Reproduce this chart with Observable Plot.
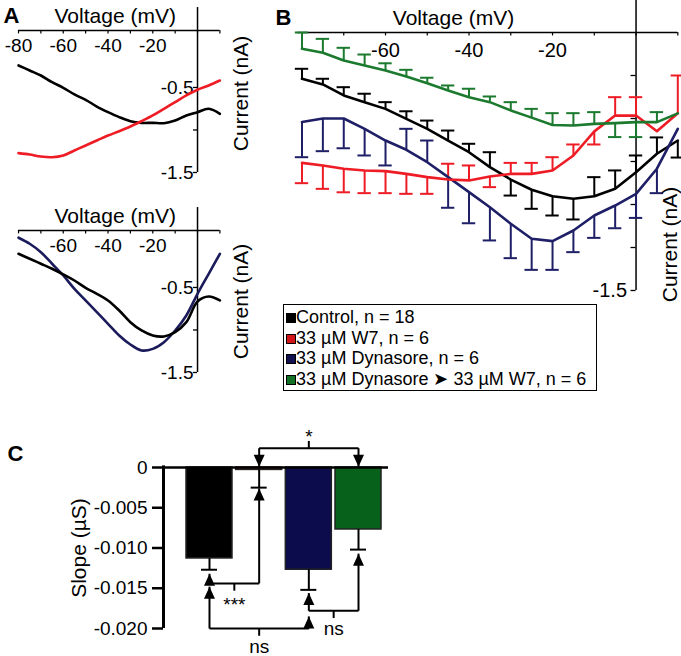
<!DOCTYPE html>
<html>
<head>
<meta charset="utf-8">
<script src="https://cdn.jsdelivr.net/npm/d3@7"></script>
<script src="https://cdn.jsdelivr.net/npm/@observablehq/plot@0.6"></script>
<style>
  body { margin: 0; background: #fff; font-family: "Liberation Sans", Arial, sans-serif; }
  #fig { position: relative; width: 681px; height: 656px; overflow: hidden; background: #fff; }
  .panel { position: absolute; }
  .panel svg { display: block; }
  .legend { position: absolute; left: 283px; top: 304px; width: 312px; height: 83px; border: 1.5px solid #000;
            font-size: 18px; color: #000; padding-top: 2px; box-sizing: content-box; }
  .legend .row { height: 20.5px; line-height: 20.5px; white-space: nowrap; position: relative; padding-left: 12px; }
  .legend .sw { position: absolute; left: 1.5px; top: 6px; width: 8px; height: 8px; border: 1px solid #000; }
</style>
</head>
<body>
<div id="fig"></div>
<script>
// ---------------- DATA ----------------
// Panel A: example traces, voltage (mV) and current (nA)
const voltsA = [-80, -75, -70, -65, -60, -55, -50, -45, -40, -35, -30, -25, -20, -15, -10, -5, 0, 5, 10];
const aTopControl = [-0.241, -0.300, -0.359, -0.438, -0.504, -0.582, -0.645, -0.724, -0.790, -0.849, -0.896, -0.916, -0.916, -0.920, -0.888, -0.829, -0.790, -0.751, -0.810];
const aTopW7      = [-1.272, -1.288, -1.312, -1.320, -1.300, -1.241, -1.182, -1.124, -1.065, -1.014, -0.959, -0.896, -0.829, -0.751, -0.672, -0.594, -0.527, -0.476, -0.418];
const aBotControl = [-0.104, -0.162, -0.221, -0.280, -0.347, -0.418, -0.504, -0.574, -0.653, -0.771, -0.908, -1.006, -1.065, -1.076, -1.025, -0.908, -0.665, -0.606, -0.653];
const aBotDynasore = [0.085, 0.014, -0.085, -0.221, -0.359, -0.516, -0.653, -0.790, -0.927, -1.065, -1.171, -1.241, -1.222, -1.143, -1.006, -0.829, -0.574, -0.339, -0.104];
const aXTicks = [-80, -70, -60, -50, -40, -30, -20, -10, 0, 10];
const aTopXLabels = [-80, -60, -40, -20];
const aBotXLabels = [-60, -40, -20];
const aYTicks = [-0.5, -1.0, -1.5];
const aYLabels = [-0.5, -1.5];

// Panel B: mean I-V curves with one-sided error bars (cap value, null = none)
const voltsB = [-80, -75, -70, -65, -60, -55, -50, -45, -40, -35, -30, -25, -20, -15, -10, -5, 0, 5, 10];
const bControl    = [-0.269, -0.302, -0.366, -0.405, -0.444, -0.502, -0.560, -0.628, -0.696, -0.783, -0.855, -0.914, -0.952, -0.967, -0.952, -0.909, -0.812, -0.705, -0.628];
const bControlCap = [-0.211, -0.269, -0.318, -0.356, -0.405, -0.458, -0.512, -0.570, -0.647, -0.696, -0.948, -1.025, -1.064, -1.087, -0.841, -0.802, -0.715, -0.610, -0.727];
const bW7         = [-0.758, -0.773, -0.792, -0.802, -0.806, -0.822, -0.841, -0.855, -0.860, -0.837, -0.822, -0.822, -0.802, -0.715, -0.575, -0.483, -0.483, -0.574, -0.469];
const bW7Cap      = [-0.876, -0.909, -0.929, -0.934, -0.934, -0.938, -0.938, -0.763, -0.773, -0.899, -0.758, -0.758, -0.725, -0.651, -0.651, -0.376, -0.376, null, -0.250];
const bDyn        = [-0.520, -0.500, -0.500, -0.560, -0.628, -0.682, -0.754, -0.841, -0.928, -1.016, -1.112, -1.199, -1.213, -1.151, -1.064, -1.006, -0.938, -0.792, -0.560];
const bDynCap     = [-0.725, -0.690, -0.673, -0.715, -0.773, -0.560, -0.628, -1.019, -1.109, -1.209, -1.312, -1.380, -1.380, -1.277, -1.194, -1.138, -1.078, -0.934, null];
const bDynW7      = [-0.095, -0.118, -0.163, -0.192, -0.221, -0.256, -0.295, -0.337, -0.376, -0.405, -0.453, -0.495, -0.538, -0.541, -0.531, -0.527, -0.521, -0.521, -0.470];
const bDynW7Cap   = [0.000, -0.037, -0.089, -0.128, -0.179, -0.217, -0.263, -0.308, -0.327, -0.372, -0.405, -0.444, -0.469, -0.469, -0.463, -0.608, -0.608, -0.463, null];
const bXTicks = [-80, -70, -60, -50, -40, -30, -20, -10, 0, 10];
const bXLabels = [-60, -40, -20];
const bYTicks = [-0.25, -0.5, -0.75, -1.0, -1.25, -1.5];
const bYLabels = [-1.5];

// Legend / series
const seriesNames = ["Control, n = 18", "33 µM W7, n = 6", "33 µM Dynasore, n = 6", "33 µM Dynasore ➤ 33 µM W7, n = 6"];
const lineColors = ["#000000", "#ee1c25", "#1e1f66", "#1b7a2e"];
const swatchColors = ["#000000", "#d3141b", "#12124f", "#137024"];

// Panel C: slope (µS), mean and SEM
const groupsC = ["Control", "33 µM W7", "33 µM Dynasore", "33 µM Dynasore ➤ 33 µM W7"];
const slopeC = [-0.0113, -0.0003, -0.0127, -0.0077];
const semC = [0.0014, 0.0022, 0.0025, 0.0025];
const barFillsC = ["#000000", "#8a1515", "#0c0c4c", "#07611a"];
const cYTicks = [0, -0.005, -0.010, -0.015, -0.020];
// statistical comparisons: group indices, bracket level, arrow tips, label
const comparisons = [
  {a: 1, b: 3, level: 0.0024, tipA: 0.0001, tipB: 0.0001, label: "*"},
  {a: 0, b: 1, level: -0.0144, tipA: -0.0132, tipB: -0.0026, label: "***"},
  {a: 0, b: 2, level: -0.0200, tipA: -0.0148, tipB: -0.0185, label: "ns"},
  {a: 2, b: 3, level: -0.0178, tipA: -0.0156, tipB: -0.0107, label: "ns"}
];

// ---------------- DRAWING ----------------
const FONT = '"Liberation Sans", Arial, Helvetica, sans-serif';
const fig = document.getElementById("fig");
function place(node, left, top, width) {
  const d = document.createElement("div");
  d.className = "panel";
  d.style.left = left + "px"; d.style.top = top + "px"; d.style.width = width + "px";
  d.appendChild(node);
  fig.appendChild(d);
}
const baseStyle = {fontFamily: FONT, background: "none", overflow: "visible", color: "#000"};
const TICK_FS = 19, TITLE_FS = 21, LETTER_FS = 22;
const title = (t, o) => Plot.text([t], {text: d => d, textAnchor: "middle", lineAnchor: "middle", fontSize: TITLE_FS, ...o});
const letterMark = (t, o) => Plot.text([t], {text: d => d, textAnchor: "start", lineAnchor: "middle", fontSize: LETTER_FS, fontWeight: "bold", ...o});

const A_AXIS_Y = 0.17;   // current at which the voltage axis crosses in panel A
function tracePlot(series, xLabels, letter, yTitleDy) {
  const rows = series.flatMap(s => voltsA.map((v, i) => ({v, I: s.values[i], color: s.color, k: s.key})));
  return Plot.plot({
    width: 250, height: 190,
    marginLeft: 18, marginRight: 30.6, marginTop: 30, marginBottom: 18,
    x: {domain: [-80, 10], axis: null},
    y: {domain: [-1.5, A_AXIS_Y], axis: null},
    color: {type: "identity"},
    style: baseStyle,
    marks: [
      Plot.ruleY([A_AXIS_Y], {x1: -80, x2: 10, stroke: "#000", strokeWidth: 1.4}),
      Plot.ruleX(aXTicks, {x: d => d, y1: A_AXIS_Y, y2: A_AXIS_Y - 0.04, stroke: "#000", strokeWidth: 1.2}),
      Plot.text(xLabels, {x: d => d, y: A_AXIS_Y, text: d => String(d), dy: 15, fontSize: TICK_FS}),
      Plot.ruleX([0], {y1: 0.44, y2: -1.5, stroke: "#000", strokeWidth: 1.5}),
      Plot.ruleY(aYTicks, {y: d => d, x1: -1.8, x2: 0, stroke: "#000", strokeWidth: 1.3}),
      Plot.text(aYLabels, {x: 0, y: d => d, text: d => d.toFixed(1), dx: -4, textAnchor: "end", fontSize: TICK_FS}),
      Plot.line(rows, {x: "v", y: "I", z: "k", stroke: "color", strokeWidth: 2.6, curve: "catmull-rom"}),
      title("Voltage (mV)", {frameAnchor: "top", dx: -4, dy: -14}),
      letterMark(letter, {frameAnchor: "top-left", dx: -15, dy: -15}),
      title("Current (nA)", {frameAnchor: "right", rotate: -90, dx: 21, dy: yTitleDy})
    ]
  });
}

place(tracePlot([
  {key: "c", values: aTopControl, color: lineColors[0]},
  {key: "w", values: aTopW7, color: lineColors[1]}
], aTopXLabels, "A", -8), 0, 0, 250);

place(tracePlot([
  {key: "d", values: aBotDynasore, color: "#1b1b5c"},
  {key: "c", values: aBotControl, color: lineColors[0]}
], aBotXLabels, "", 0), 0, 200, 250);

// Panel B
const bSeries = [
  {mean: bControl, cap: bControlCap, color: lineColors[0]},
  {mean: bDyn, cap: bDynCap, color: lineColors[2]},
  {mean: bW7, cap: bW7Cap, color: lineColors[1]},
  {mean: bDynW7, cap: bDynW7Cap, color: lineColors[3]}
];
const bRows = bSeries.flatMap((s, k) => voltsB.map((v, i) => ({v, mean: s.mean[i], cap: s.cap[i], color: s.color, k})));
const bErr = bRows.filter(d => d.cap !== null);
place(Plot.plot({
  width: 411, height: 300,
  marginLeft: 31.5, marginRight: 3.7, marginTop: 32, marginBottom: 10,
  x: {domain: [-80, 10], axis: null},
  y: {domain: [-1.5, 0], axis: null},
  color: {type: "identity"},
  style: baseStyle,
  marks: [
    Plot.ruleY([0], {x1: -81, x2: 10, stroke: "#000", strokeWidth: 1.4}),
    Plot.ruleX(bXTicks, {x: d => d, y1: 0, y2: -0.02, stroke: "#000", strokeWidth: 1.2}),
    Plot.text(bXLabels, {x: d => d, y: 0, text: d => String(d), dy: 18, fontSize: TICK_FS + 1}),
    Plot.ruleX([0], {y1: 0.186, y2: -1.5, stroke: "#000", strokeWidth: 1.5}),
    Plot.ruleY(bYTicks, {y: d => d, x1: -1.2, x2: 0, stroke: "#000", strokeWidth: 1.3}),
    Plot.text(bYLabels, {x: 0, y: d => d, text: d => d.toFixed(1), dx: -9, textAnchor: "end", fontSize: TICK_FS + 1}),
    Plot.ruleX(bErr, {x: "v", y1: "mean", y2: "cap", stroke: "color", strokeWidth: 2}),
    Plot.ruleY(bErr, {y: "cap", x1: d => d.v - 1.6, x2: d => d.v + 1.6, stroke: "color", strokeWidth: 2}),
    Plot.line(bRows, {x: "v", y: "mean", z: "k", stroke: "color", strokeWidth: 2.6}),
    title("Voltage (mV)", {frameAnchor: "top", dx: -36.4, dy: -14}),
    letterMark("B", {frameAnchor: "top-left", dx: -26.5, dy: -15}),
    title("Current (nA)", {frameAnchor: "bottom-right", rotate: -90, dx: -7.3, dy: -46})
  ]
}), 270, 0, 411);

// Legend
const legend = document.createElement("div");
legend.className = "legend";
legend.innerHTML = seriesNames.map((n, i) =>
  `<div class="row"><span class="sw" style="background:${swatchColors[i]}"></span>${n}</div>`).join("");
fig.appendChild(legend);

// Panel C
const xDomC = [-0.926, 3.604];
const HALF = 0.463, CAPW = 0.161;
const cRows = groupsC.map((g, i) => ({i, g, slope: slopeC[i], cap: slopeC[i] - semC[i], fill: barFillsC[i]}));
const arrowUp = {draw(ctx) { ctx.moveTo(0, 0); ctx.lineTo(-5.5, 12); ctx.lineTo(5.5, 12); ctx.closePath(); }};
const arrowDown = {draw(ctx) { ctx.moveTo(0, 0); ctx.lineTo(-5.5, -12); ctx.lineTo(5.5, -12); ctx.closePath(); }};
const compMarks = comparisons.flatMap(c => {
  const up = c.tipA > c.level;          // arrows pointing up toward the bars
  const mid = (c.a + c.b) / 2;
  const tickEnd = up ? c.level - 0.0009 : c.level + 0.0009;
  const tips = [{x: c.a, y: c.tipA}, {x: c.b, y: c.tipB}];
  const labelDy = up ? (c.label === "***" ? 21 : 18) : -11.5;
  return [
    Plot.link([c], {x1: "a", x2: "b", y1: "level", y2: "level", stroke: "#000", strokeWidth: 2}),
    Plot.link(tips, {x1: "x", x2: "x", y1: () => c.level, y2: "y", stroke: "#000", strokeWidth: 2}),
    Plot.link([c], {x1: () => mid, x2: () => mid, y1: "level", y2: () => tickEnd, stroke: "#000", strokeWidth: 2}),
    Plot.dot(tips, {x: "x", y: "y", symbol: up ? arrowUp : arrowDown, r: 4, fill: "#000", stroke: "none"}),
    Plot.text([c], {x: () => mid, y: "level", text: "label", dy: labelDy, fontSize: TICK_FS})
  ];
});
place(Plot.plot({
  width: 420, height: 256,
  marginLeft: 163, marginRight: 32, marginTop: 67, marginBottom: 28,
  x: {domain: xDomC, axis: null},
  y: {domain: [-0.02, 0], axis: null},
  color: {type: "identity"},
  style: baseStyle,
  marks: [
    Plot.rect(cRows, {x1: d => d.i - HALF, x2: d => d.i + HALF, y1: 0, y2: "slope", fill: "fill", stroke: "#222", strokeWidth: 1.5}),
    Plot.ruleX(cRows, {x: "i", y1: "slope", y2: "cap", stroke: "#000", strokeWidth: 2}),
    Plot.ruleY(cRows, {y: "cap", x1: d => d.i - CAPW, x2: d => d.i + CAPW, stroke: "#000", strokeWidth: 2}),
    Plot.ruleY([0], {x1: xDomC[0], x2: xDomC[1], stroke: "#000", strokeWidth: 2.5}),
    Plot.ruleX([xDomC[0]], {y1: 0.0002, y2: -0.02, stroke: "#000", strokeWidth: 3}),
    Plot.axisY({ticks: cYTicks, tickSize: 11, tickPadding: 5, strokeWidth: 2.5, fontSize: TICK_FS, label: null,
                tickFormat: d => d === 0 ? "0" : d.toFixed(3)}),
    ...compMarks,
    title("Slope (µS)", {frameAnchor: "left", rotate: -90, dx: -84}),
    letterMark("C", {frameAnchor: "top-left", dx: -156, dy: -14})
  ]
}), 0, 400, 420);
</script>
</body>
</html>
